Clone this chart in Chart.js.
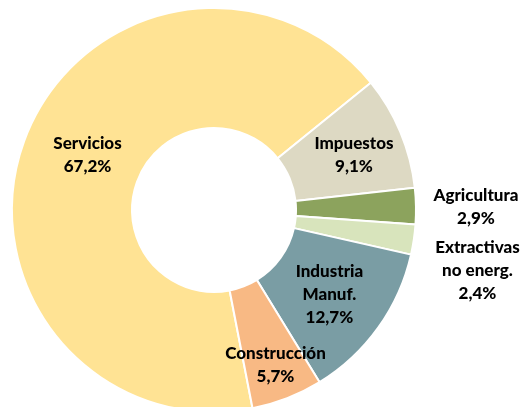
<!DOCTYPE html>
<html>
<head>
<meta charset="utf-8">
<script src="https://cdn.jsdelivr.net/npm/chart.js@4/dist/chart.umd.min.js"></script>
<style>
    html, body { margin: 0; padding: 0; background: #fff; overflow: hidden; }
    #wrap { width: 522px; height: 407px; overflow: hidden; }
</style>
</head>
<body>
<div id="wrap"><canvas id="sectorChart" width="522" height="420"></canvas></div>
<script>
// Peso de cada sector (%)
const sectors = ['Servicios', 'Impuestos', 'Agricultura', 'Extractivas no energ.', 'Industria Manuf.', 'Construcción'];
const shares = [67.2, 9.1, 2.9, 2.4, 12.7, 5.7];
const sliceColors = ['#FFE394', '#DDD9C3', '#8CA35D', '#D8E4BC', '#7A9DA4', '#F8B984'];

// Texto de cada etiqueta, línea a línea
const labelLines = [
    ['Servicios'],
    ['Impuestos'],
    ['Agricultura'],
    ['Extractivas', 'no energ.'],
    ['Industria', 'Manuf.'],
    ['Construcción']
];
// Desplazamiento de cada etiqueta respecto al centro del sector
const labelNudge = [[7, -7], [9, 0], [120, 0], [123, 40], [0, 2], [10, 23]];

const fmtPct = v => v.toFixed(1).replace('.', ',') + '%';

const sliceLabels = {
    id: 'sliceLabels',
    afterDatasetsDraw(chart) {
        const ctx = chart.ctx;
        const arcs = chart.getDatasetMeta(0).data;
        ctx.save();
        ctx.font = '900 17px Lato, "DejaVu Sans", sans-serif';
        ctx.fillStyle = '#000';
        ctx.textAlign = 'center';
        ctx.textBaseline = 'middle';
        const lineH = 23;
        arcs.forEach((arc, i) => {
            const p = arc.tooltipPosition();
            const lines = labelLines[i].concat([fmtPct(shares[i])]);
            const x = p.x + labelNudge[i][0];
            const y0 = p.y + labelNudge[i][1] - (lines.length - 1) * lineH / 2;
            lines.forEach((t, k) => ctx.fillText(t, x, y0 + k * lineH));
        });
        ctx.restore();
    }
};

new Chart(document.getElementById('sectorChart').getContext('2d'), {
    type: 'doughnut',
    data: {
        labels: sectors,
        datasets: [{
            data: shares,
            backgroundColor: sliceColors,
            borderColor: '#fff',
            borderWidth: 2,
            hoverOffset: 0
        }]
    },
    options: {
        responsive: false,
        animation: false,
        rotation: 169,
        cutout: '40.6%',
        layout: { padding: { left: 11, top: 7, right: 105, bottom: 7 } },
        plugins: {
            legend: { display: false },
            tooltip: { enabled: false }
        }
    },
    plugins: [sliceLabels]
});
</script>
</body>
</html>
